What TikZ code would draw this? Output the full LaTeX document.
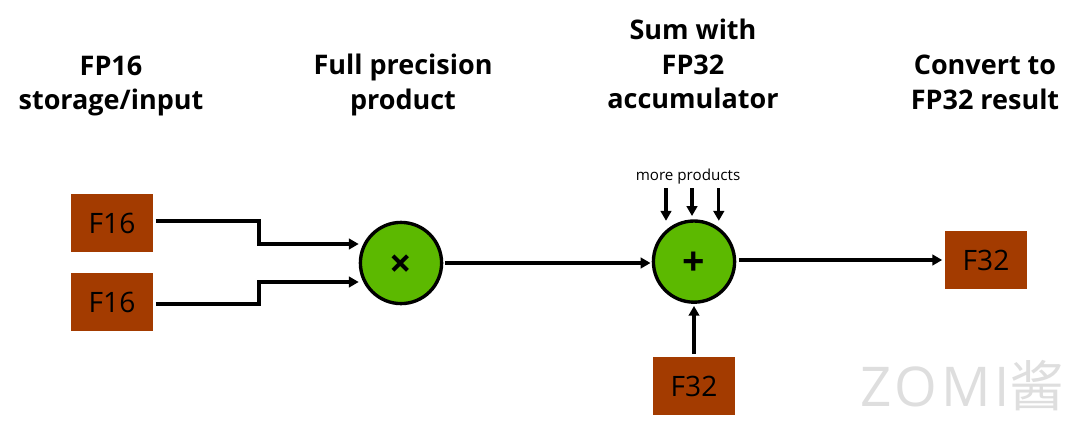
\documentclass[tikz,border=0pt]{standalone}
\usepackage{fontspec}
\setmainfont{Open Sans}
\newfontfamily\cjk{Noto Sans CJK SC}
\usetikzlibrary{arrows.meta}
\definecolor{boxbrown}{HTML}{A33B00}
\definecolor{opgreen}{HTML}{5CB900}
\tikzset{head/.style = {align = center,font = \fontsize{19.2}{24.8}\selectfont\bfseries},
reg/.style = {fill = boxbrown,minimum width = 2.05cm,minimum height = 1.45cm,inner sep = 0pt,outer sep = .07cm,font = \fontsize{20}{24}\selectfont},
op/.style = {circle,draw,line width = 2.4pt,fill = opgreen,minimum size = 2.03cm,inner sep = 0pt,font = \fontsize{28}{28}\selectfont\bfseries},
arrow/.style = {-{Triangle[length = 7pt,width = 7.5pt]},line width = 2.3pt}}

\begin{document}
\begin{tikzpicture}
\useasboundingbox (0,0) rectangle (27,-10.5);

\node[head] (ha) at (2.775,-2.15) {FP16 \\ storage/input};
\node[head] (hb) at (10.075,-2.12) {Full precision \\ product};
\node[head] (hc) at (17.325,-1.6) {Sum with \\ FP32 \\ accumulator};
\node[head] (hd) at (24.625,-2.05) {Convert to \\ FP32 result};

\node[reg] (a) at (2.8,-5.575) {F16};
\node[reg] (b) at (2.8,-7.55) {F16};
\node[op] (m) at (10.025,-6.575) {\raisebox{-10pt}[0pt][0pt]{×}};
\node[op] (s) at (17.35,-6.54) {\raisebox{-10pt}[0pt][0pt]{+}};
\node[reg] (c) at (24.65,-6.5) {F32};
\node[reg] (d) at (17.35,-9.65) {F32};

\node[font = \fontsize{10.8}{12}\selectfont] (more) at (17.2,-4.42) {more products};
\node[text = black!13,font = \fontsize{39}{39}\selectfont] (logo) at (24.06,-9.63) {\addfontfeature{LetterSpace = 7}ZOMI{\cjk 酱}};

\coordinate (pa) at (16.65,-4.7);
\coordinate (pb) at (17.3,-4.7);
\coordinate (pc) at (17.97,-4.7);

\draw[arrow] ([yshift = .05cm]a.east) -- ++(2.58,0) |- ([yshift = .475cm]m.west);
\draw[arrow] ([yshift = -.05cm]b.east) -- ++(2.58,0) |- ([yshift = -.475cm]m.west);
\draw[arrow] ([xshift = .05cm]m.east) -- ([xshift = -.03cm]s.west|-m.east);
\draw[arrow] ([xshift = .07cm]s.east|-c) -- (c);
\draw[arrow] (d) -- ([yshift = -.05cm]s.south);
\draw[arrow] (pa) -- ++(0,-.82);
\draw[arrow] (pb) -- ++(0,-.7);
\draw[arrow] (pc) -- ++(0,-.82);
\end{tikzpicture}
\end{document}
